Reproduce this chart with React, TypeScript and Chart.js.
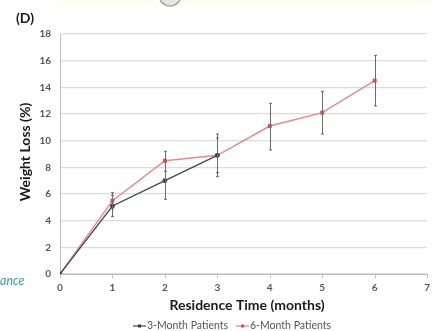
import React, { useEffect, useRef } from "react";
import { Chart, registerables } from "chart.js";
Chart.register(...registerables);

const months3 = [0, 1, 2, 3];
const months6 = [0, 1, 2, 3, 4, 5, 6];
const loss3 = [0, 5.1, 7.0, 8.9];
const loss6 = [0, 5.5, 8.5, 8.9, 11.1, 12.1, 14.5];
const low3 = [0, 4.3, 5.6, 7.3];
const high3 = [0, 5.9, 8.4, 10.5];
const low6 = [0, 4.9, 7.7, 7.6, 9.3, 10.5, 12.6];
const high6 = [0, 6.1, 9.2, 10.2, 12.8, 13.7, 16.4];
const yTicks = [0, 2, 4, 6, 8, 10, 12, 14, 16, 18];
const xTicks = [0, 1, 2, 3, 4, 5, 6, 7];
const seriesNames = ["3-Month Patients", "6-Month Patients"];

const FONT = "Lato, 'Open Sans', sans-serif";

const extrasPlugin = {
  id: "extras",
  beforeDraw(chart: any) {
    const ctx = chart.ctx;
    ctx.save();
    ctx.fillStyle = "#fffdf4";
    ctx.fillRect(60, 0, 372, 7);
    ctx.restore();
  },
  afterDatasetsDraw(chart: any) {
    const ctx = chart.ctx;
    const xs = chart.scales.x;
    const ys = chart.scales.y;
    const ca = chart.chartArea;
    ctx.save();
    // error bars
    const drawErr = (xv: number[], lo: number[], hi: number[]) => {
      ctx.strokeStyle = "#6b6b6b";
      ctx.lineWidth = 1;
      xv.forEach((m, i) => {
        if (lo[i] === hi[i]) return;
        const px = Math.round(xs.getPixelForValue(m)) + 0.5;
        const y1 = ys.getPixelForValue(lo[i]);
        const y2 = ys.getPixelForValue(hi[i]);
        ctx.beginPath();
        ctx.moveTo(px, y1);
        ctx.lineTo(px, y2);
        ctx.moveTo(px - 1.5, y1);
        ctx.lineTo(px + 1.5, y1);
        ctx.moveTo(px - 1.5, y2);
        ctx.lineTo(px + 1.5, y2);
        ctx.stroke();
      });
    };
    drawErr(months3, low3, high3);
    drawErr(months6, low6, high6);
    // x tick marks
    ctx.strokeStyle = "#bdbdbd";
    xTicks.forEach((t) => {
      const px = Math.round(xs.getPixelForValue(t)) + 0.5;
      ctx.beginPath();
      ctx.moveTo(px, ca.bottom);
      ctx.lineTo(px, ca.bottom + 4);
      ctx.stroke();
    });
    // panel label
    ctx.fillStyle = "#1a1a1a";
    ctx.font = "bold 14px " + FONT;
    ctx.textAlign = "left";
    ctx.textBaseline = "middle";
    ctx.fillText("(D)", 16, 18);
    // axis titles
    ctx.font = "bold 14px " + FONT;
    ctx.textAlign = "center";
    ctx.fillText("Residence Time (months)", 247, 305);
    ctx.save();
    ctx.translate(25, 152);
    ctx.rotate(-Math.PI / 2);
    ctx.fillText("Weight Loss (%)", 0, 0);
    ctx.restore();
    // stray text
    ctx.fillStyle = "#3a9bb0";
    ctx.font = "italic 12.5px " + FONT;
    ctx.textAlign = "left";
    ctx.fillText("ance", 0, 281);
    // legend
    const ly = 326;
    const items = [
      { x: 133, color: "#3f4654", mark: "#2f3a4c", text: seriesNames[0] },
      { x: 236, color: "#e08585", mark: "#d44c4c", text: seriesNames[1] },
    ];
    ctx.font = "10.5px " + FONT;
    items.forEach((it) => {
      ctx.strokeStyle = it.color;
      ctx.lineWidth = 1.2;
      ctx.beginPath();
      ctx.moveTo(it.x, ly);
      ctx.lineTo(it.x + 13, ly);
      ctx.stroke();
      ctx.fillStyle = it.mark;
      ctx.fillRect(it.x + 5, ly - 1.5, 3, 3);
      ctx.fillStyle = "#555";
      ctx.fillText(it.text, it.x + 14, ly);
    });
    // gray circle at top
    ctx.strokeStyle = "#9a9a9a";
    ctx.fillStyle = "#e6e6e6";
    ctx.beginPath();
    ctx.arc(170, -5, 11, 0, Math.PI * 2);
    ctx.fill();
    ctx.stroke();
    ctx.restore();
  },
};

export default function App() {
  const ref = useRef<HTMLCanvasElement>(null);
  useEffect(() => {
    if (!ref.current) return;
    const chart = new Chart(ref.current, {
      type: "line",
      data: {
        datasets: [
          {
            label: seriesNames[0],
            data: months3.map((m, i) => ({ x: m, y: loss3[i] })),
            borderColor: "#3f4654",
            backgroundColor: "#2f3a4c",
            borderWidth: 1.3,
            pointRadius: 1.8,
            pointStyle: "circle",
          },
          {
            label: seriesNames[1],
            data: months6.map((m, i) => ({ x: m, y: loss6[i] })),
            borderColor: "#e48b8b",
            backgroundColor: "#d9534f",
            borderWidth: 1.5,
            pointRadius: 2.8,
            pointStyle: "rect",
            pointBorderWidth: 0,
          },
        ],
      },
      options: {
        responsive: false,
        animation: false,
        layout: { padding: { left: 0, right: 4, top: 34, bottom: 0 } },
        plugins: { legend: { display: false }, tooltip: { enabled: false } },
        scales: {
          x: {
            type: "linear",
            min: 0,
            max: 7,
            afterBuildTicks: (s: any) => {
              s.ticks = xTicks.map((v) => ({ value: v }));
            },
            afterFit: (s: any) => {
              s.height = 57;
            },
            grid: { display: false, drawTicks: false },
            border: { display: true, color: "#bdbdbd" },
            ticks: {
              color: "#555",
              font: { family: FONT, size: 10, weight: "bold" },
              padding: 8,
              maxRotation: 0,
            },
          },
          y: {
            min: 0,
            max: 18,
            afterBuildTicks: (s: any) => {
              s.ticks = yTicks.map((v) => ({ value: v }));
            },
            afterFit: (s: any) => {
              s.width = 60;
            },
            grid: { color: "#dcdcdc", drawTicks: false, lineWidth: 1.3 },
            border: { display: true, color: "#bdbdbd" },
            ticks: {
              color: "#555",
              font: { family: FONT, size: 10, weight: "bold" },
              padding: 9,
            },
          },
        },
      },
      plugins: [extrasPlugin],
    } as any);
    return () => chart.destroy();
  }, []);
  return (
    <div style={{ position: "fixed", left: 0, top: 0, width: 438, height: 331, background: "#fff" }}>
      <canvas ref={ref} width={438} height={331} style={{ display: "block" }} />
    </div>
  );
}
